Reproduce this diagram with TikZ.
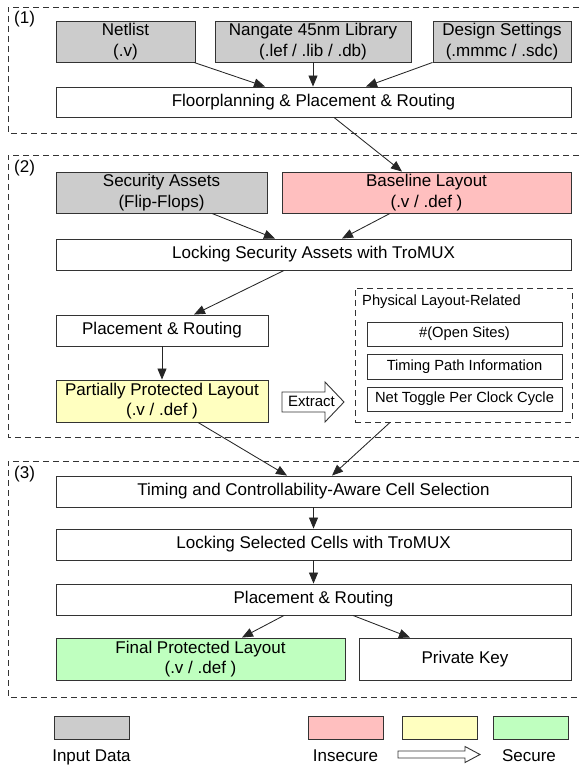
\documentclass[tikz,border=0pt]{standalone}
\usepackage{fontspec}
\setmainfont{Liberation Sans}
\usetikzlibrary{arrows.meta}
\definecolor{grayfill}{HTML}{CCCCCC}
\definecolor{pinkfill}{HTML}{FFBFBF}
\definecolor{yellowfill}{HTML}{FFFFC0}
\definecolor{greenfill}{HTML}{BFFFBF}
\definecolor{edge}{HTML}{333333}
\begin{document}
\begin{tikzpicture}[x=1pt,y=-1pt,
  box/.style={draw=edge, line width=0.9pt, inner sep=0pt, align=center, font=\fontsize{17}{20.5}\selectfont},
  smallbox/.style={draw=edge, line width=0.9pt, inner sep=0pt, align=center, font=\fontsize{14.7}{17}\selectfont, minimum width=195pt},
  sectionline/.style={draw=edge, dash pattern=on 6pt off 4pt, line width=0.9pt},
  arr/.style={draw=black!85, line width=0.85pt, -{Triangle[length=11pt,width=9pt]}},
  lbl/.style={font=\fontsize{17}{20}\selectfont, inner sep=0pt},
  legbox/.style={draw=edge, line width=0.9pt, minimum width=75pt, minimum height=23pt, inner sep=0pt}
]
\useasboundingbox (0,0) rectangle (579,765);

% sections
\draw[sectionline] (579,7) -- (8,7) -- (8,133) -- (579,133);
\draw[sectionline] (579,155) -- (8,155) -- (8,437) -- (579,437);
\draw[sectionline] (579,461) -- (8,461) -- (8,697) -- (579,697);
\node[lbl, anchor=base west] (s1) at (14,24) {(1)};
\node[lbl, anchor=base west] (s2) at (14,172) {(2)};
\node[lbl, anchor=base west] (s3) at (14,478) {(3)};

% section 1
\node[box, fill=grayfill, minimum width=139pt, minimum height=41pt] (netlist) at (125.5,41.5) {Netlist\\(.v)};
\node[box, fill=grayfill, minimum width=196pt, minimum height=41pt] (nangate) at (313,41.5) {Nangate 45nm Library\\(.lef / .lib / .db)};
\node[box, fill=grayfill, minimum width=138pt, minimum height=41pt] (design) at (502,41.5) {Design Settings\\(.mmmc / .sdc)};
\node[box, fill=white, minimum width=515pt, minimum height=30pt] (floor) at (313.5,102) {Floorplanning \& Placement \& Routing};

% section 2
\node[box, fill=grayfill, minimum width=211pt, minimum height=41pt] (assets) at (161.5,192.5) {Security Assets\\(Flip-Flops)};
\node[box, fill=pinkfill, minimum width=289pt, minimum height=41pt] (baseline) at (426.5,192.5) {Baseline Layout\\(.v / .def )};
\node[box, fill=white, minimum width=515pt, minimum height=31pt] (lock1) at (313.5,254.5) {Locking Security Assets with TroMUX};
\node[box, fill=white, minimum width=212pt, minimum height=31pt] (pr1) at (162,330.5) {Placement \& Routing};
\node[box, fill=yellowfill, minimum width=212pt, minimum height=42pt] (partial) at (162,401) {Partially Protected Layout\\(.v / .def )};

\node[draw=edge, line width=0.9pt, dash pattern=on 6pt off 4pt, minimum width=217pt, minimum height=134pt, inner sep=0pt] (phys) at (463.5,355) {};
\node[anchor=base west, inner sep=0pt, font=\fontsize{14.7}{17}\selectfont] (physlabel) at (362,305.5) {Physical Layout-Related};
\node[smallbox, minimum height=24pt] (open) at (464.5,334) {\#(Open Sites)};
\node[smallbox, minimum height=25pt] (tpath) at (464.5,366.5) {Timing Path Information};
\node[smallbox, minimum height=24pt] (toggle) at (464.5,399) {Net Toggle Per Clock Cycle};

\draw[draw=edge, fill=white, line width=0.9pt, line join=miter] (282,392) -- (325,392) -- (325,382) -- (344,402) -- (325,422) -- (325,412) -- (282,412) -- cycle;
\node[inner sep=0pt, font=\fontsize{15}{17}\selectfont] (extract) at (311.5,401.5) {Extract};

% section 3
\node[box, fill=white, minimum width=515pt, minimum height=31pt] (tsel) at (313.5,491.5) {Timing and Controllability-Aware Cell Selection};
\node[box, fill=white, minimum width=515pt, minimum height=31pt] (lock2) at (313.5,544.5) {Locking Selected Cells with TroMUX};
\node[box, fill=white, minimum width=515pt, minimum height=31pt] (pr2) at (313.5,599.5) {Placement \& Routing};
\node[box, fill=greenfill, minimum width=289pt, minimum height=42pt] (final) at (200.5,659) {Final Protected Layout\\(.v / .def )};
\node[box, fill=white, minimum width=212pt, minimum height=42pt] (key) at (465,659) {Private Key};

% arrows
\draw[arr] ([xshift=68.5pt]netlist.south) -- ([xshift=-48.5pt]floor.north);
\draw[arr] (nangate.south) -- (nangate.south |- floor.north);
\draw[arr] (design.south west) -- ([xshift=52.5pt]floor.north);
\draw[arr] ([xshift=20.5pt]floor.south) -- ([xshift=-24.5pt]baseline.north);
\draw[arr] ([xshift=50.5pt]assets.south) -- ([xshift=-38.5pt]lock1.north);
\draw[arr] ([xshift=-36.5pt]baseline.south) -- ([xshift=28.5pt]lock1.north);
\draw[arr] ([xshift=-29.5pt]lock1.south) -- ([xshift=32pt]pr1.north);
\draw[arr] (pr1.south) -- (partial.north);
\draw[arr] ([xshift=36pt]partial.south) -- ([xshift=-26.5pt]tsel.north);
\draw[arr] ([xshift=-73.5pt]phys.south) -- ([xshift=18.5pt]tsel.north);
\draw[arr] (tsel.south) -- (lock2.north);
\draw[arr] (lock2.south) -- (pr2.north);
\draw[arr] ([xshift=-29.5pt]pr2.south) -- ([xshift=41.5pt]final.north);
\draw[arr] ([xshift=39.5pt]pr2.south) -- ([xshift=-55pt]key.north);

% legend
\node[legbox, fill=grayfill] (lgray) at (91.5,727.5) {};
\node[legbox, fill=pinkfill] (lpink) at (345.5,727.5) {};
\node[legbox, fill=yellowfill] (lyellow) at (439.5,727.5) {};
\node[legbox, fill=greenfill] (lgreen) at (530.5,727.5) {};
\node[lbl, anchor=base] (linput) at (91.5,761) {Input Data};
\node[lbl, anchor=base] (linsecure) at (345.5,761) {Insecure};
\node[lbl, anchor=base] (lsecure) at (529,761) {Secure};
\draw[draw=edge, fill=white, line width=0.9pt, line join=miter] (398,751) -- (465,751) -- (465,746.5) -- (480,754.5) -- (465,762.5) -- (465,758) -- (398,758) -- cycle;
\end{tikzpicture}
\end{document}
